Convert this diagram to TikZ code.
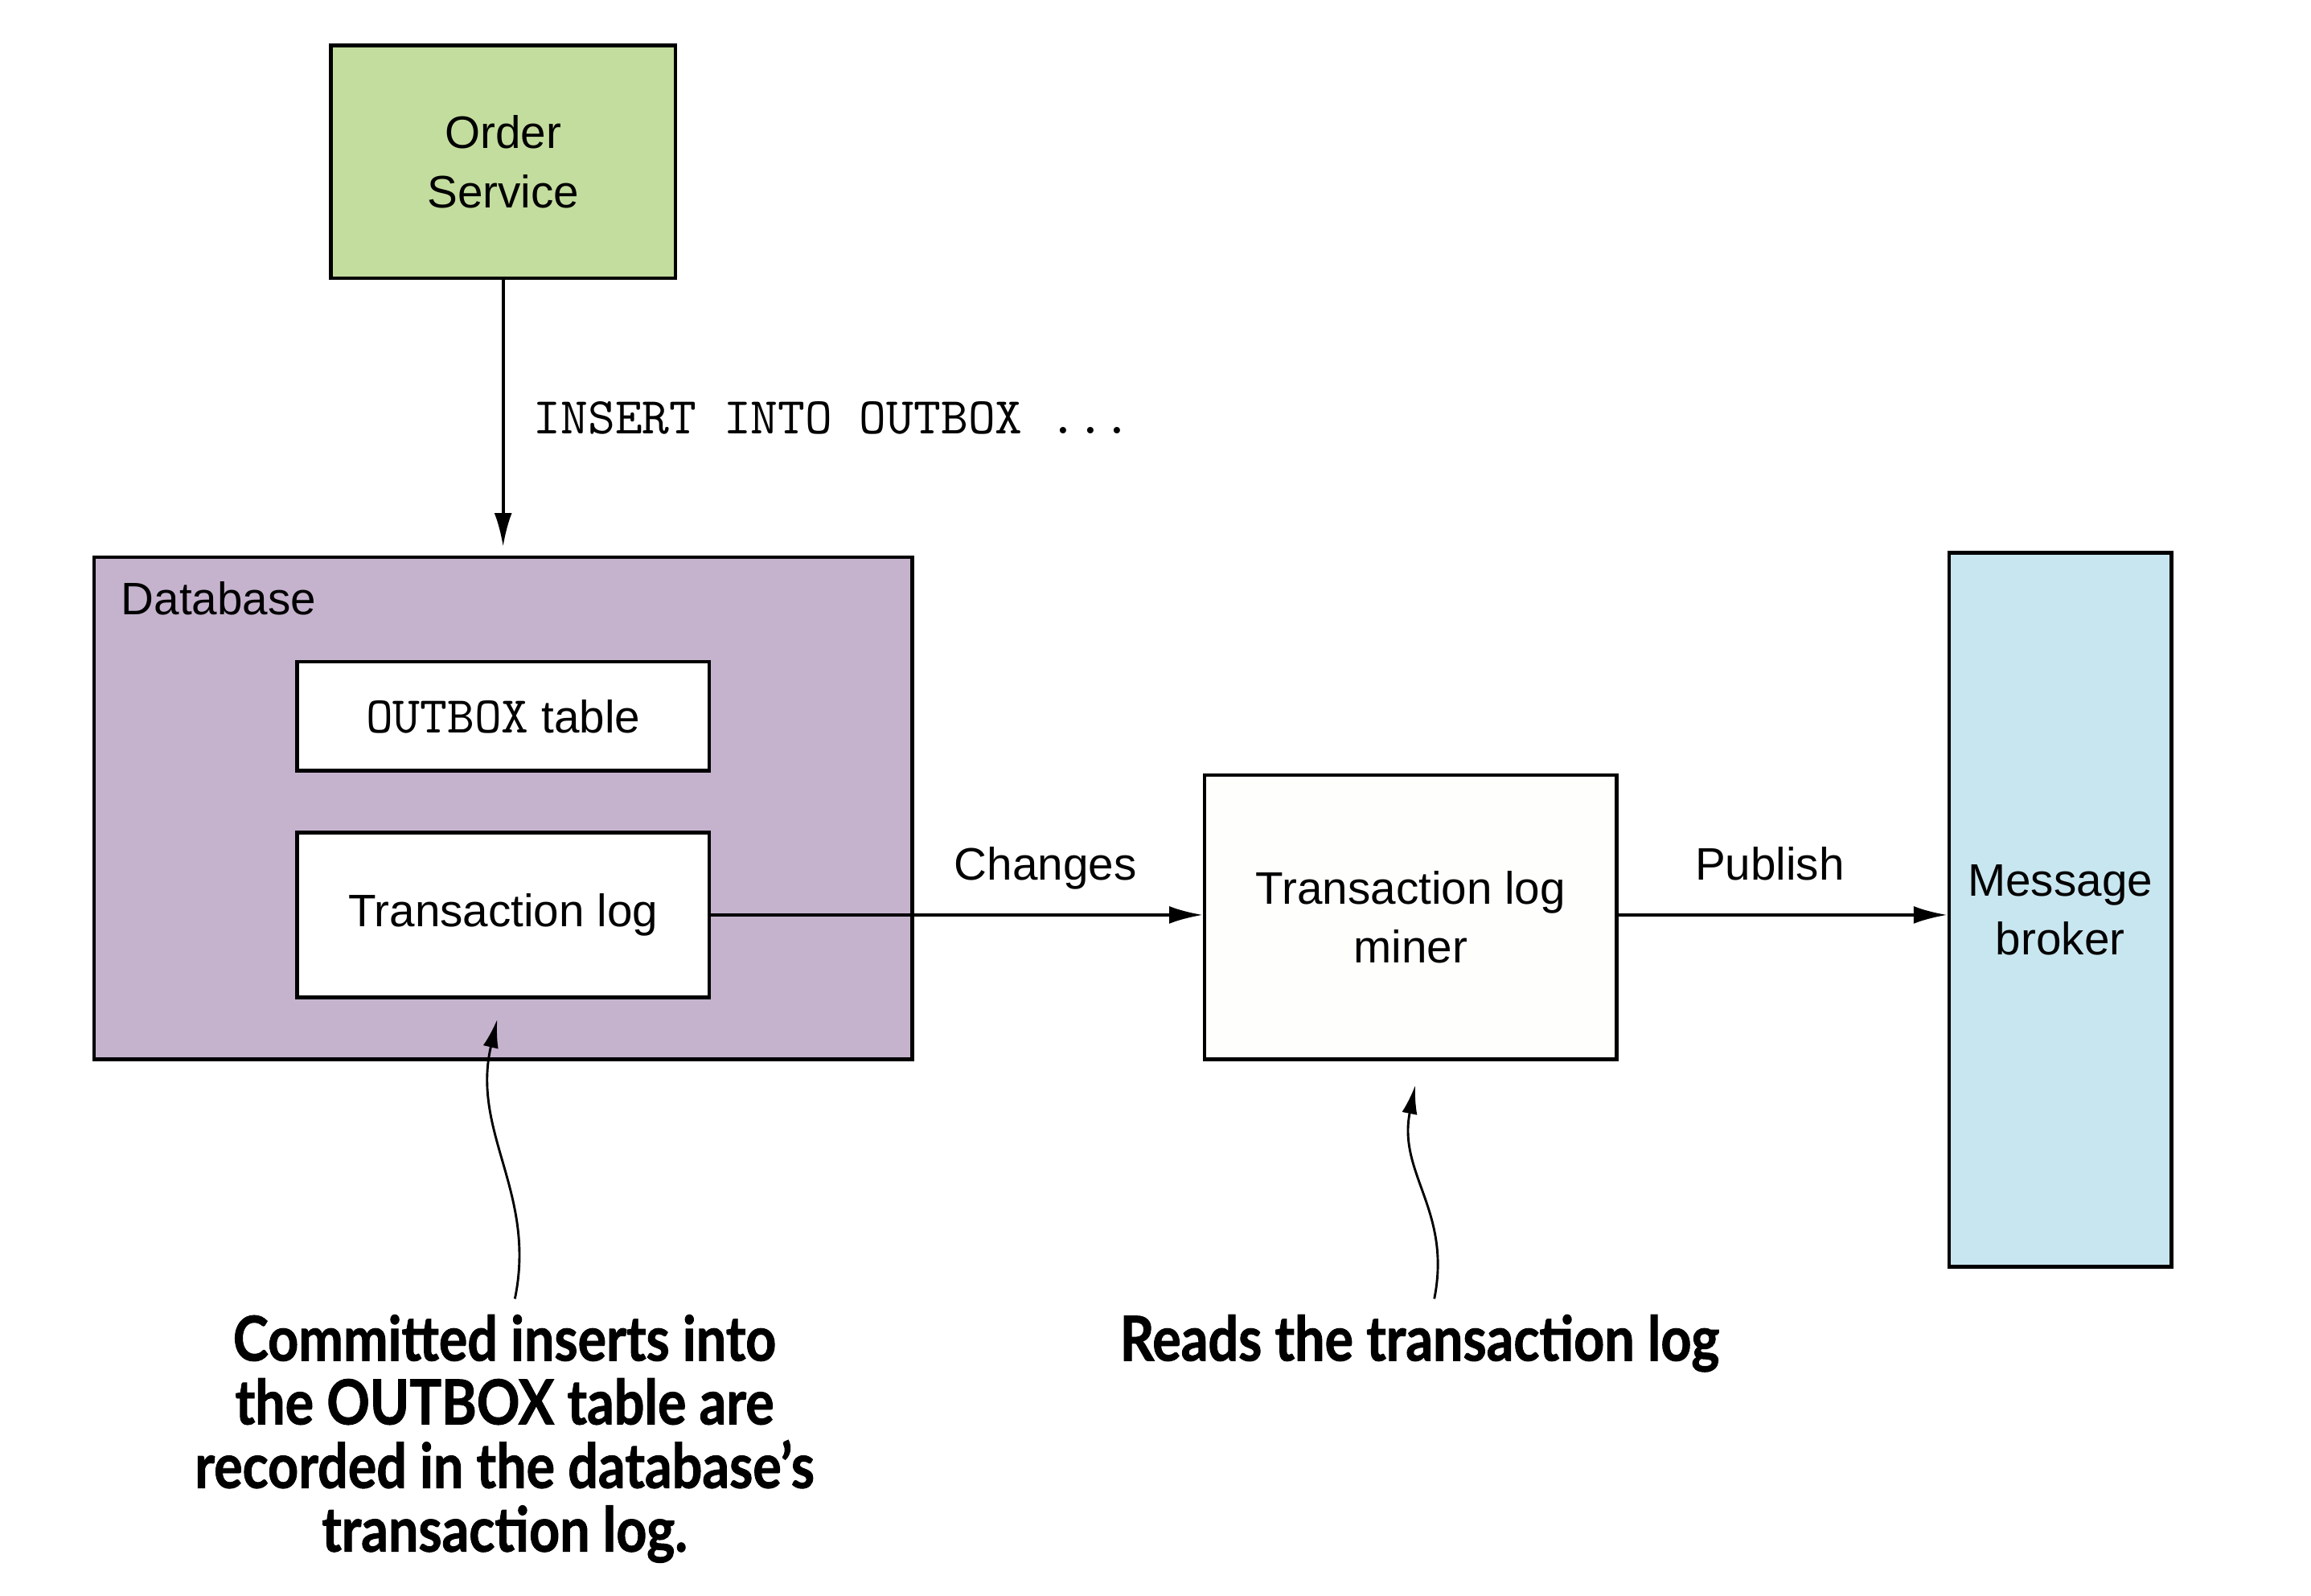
\documentclass[tikz,border=0pt]{standalone}
\usepackage{fontspec}
\setmainfont{Liberation Sans}
\newfontfamily\notefont[FakeStretch=0.86,BoldFeatures={FakeBold=1.2}]{Lato}
\usetikzlibrary{arrows.meta,positioning}

\definecolor{ordergreen}{HTML}{C3DD9E}
\definecolor{dbpurple}{HTML}{C5B3CE}
\definecolor{brokerblue}{HTML}{C8E6EF}
\definecolor{minerwhite}{HTML}{FEFEFC}

\tikzset{
  box/.style={draw, line width=0.7pt, inner sep=0pt, align=center,
    font=\fontsize{8.8}{11.4}\selectfont},
  code/.style={font=\ttfamily\fontsize{10}{11.4}\selectfont},
  flow/.style={-{Latex[length=6.5pt,width=3.4pt]}, line width=0.6pt},
  flowlabel/.style={font=\fontsize{8.8}{11.4}\selectfont, text depth=0.25em},
  note/.style={font=\notefont\bfseries\fontsize{12}{12.3}\selectfont,
    align=center, inner sep=0pt},
  pointer/.style={-{Latex[length=5.5pt,width=3pt]}, line width=0.45pt},
}

\begin{document}
\begin{tikzpicture}[x=0.01cm,y=-0.01cm]
    \useasboundingbox (0,0) rectangle (1571,1084.5);
    % services and stores
    \node[box, fill=ordergreen, minimum width=2.34cm, minimum height=1.58cm]
        (order) at (342,110) {Order\\Service};
    \node[box, fill=dbpurple, minimum width=5.56cm, minimum height=3.41cm]
        (db) at (342,549.5) {};
    \node[flowlabel, anchor=base west] (dblabel) at (70,418) {Database};
    \node[box, fill=white, minimum width=2.8cm, minimum height=0.74cm]
        (outbox) at (342,487) {{\ttfamily\fontsize{10}{11.4}\selectfont OUTBOX} table};
    \node[box, fill=white, minimum width=2.8cm, minimum height=1.12cm]
        (txlog) at (342,622) {Transaction log};
    \node[box, fill=minerwhite, minimum width=2.8cm, minimum height=1.93cm]
        (miner) at (959,623.5) {Transaction log\\miner};
    \node[box, fill=brokerblue, minimum width=1.51cm, minimum height=4.85cm]
        (broker) at (1400.5,618.5) {Message\\broker};
    % flows
    \draw[flow, shorten >=0.06cm] (order.south) -- (db.north)
        node[midway, right=0.08cm, code] (insert) {INSERT INTO OUTBOX ...};
    \draw[flow] (txlog.east) -- (txlog.east -| miner.west)
        node[pos=0.68, above=0.02cm, flowlabel] (changes) {Changes};
    \draw[flow] (miner.east |- txlog.east) -- (txlog.east -| broker.west)
        node[pos=0.46, above=0.02cm, flowlabel] (publish) {Publish};
    % callouts
    \node[note, anchor=north] (committed) at (343,893)
        {Committed inserts into\\the OUTBOX table are\\recorded in the database’s\\transaction log.};
    \node[note, anchor=north] (reads) at (965,893) {Reads the transaction log};
    \coordinate (tip1) at (338,693);
    \coordinate (tip2) at (962,738);
    \draw[pointer] ([xshift=0.07cm, yshift=0.1cm]committed.north)
        .. controls +(15,-72) and +(-18,77) .. (tip1);
    \draw[pointer] ([xshift=0.1cm, yshift=0.1cm]reads.north)
        .. controls +(12,-60) and +(-12,60) .. (tip2);
\end{tikzpicture}
\end{document}
